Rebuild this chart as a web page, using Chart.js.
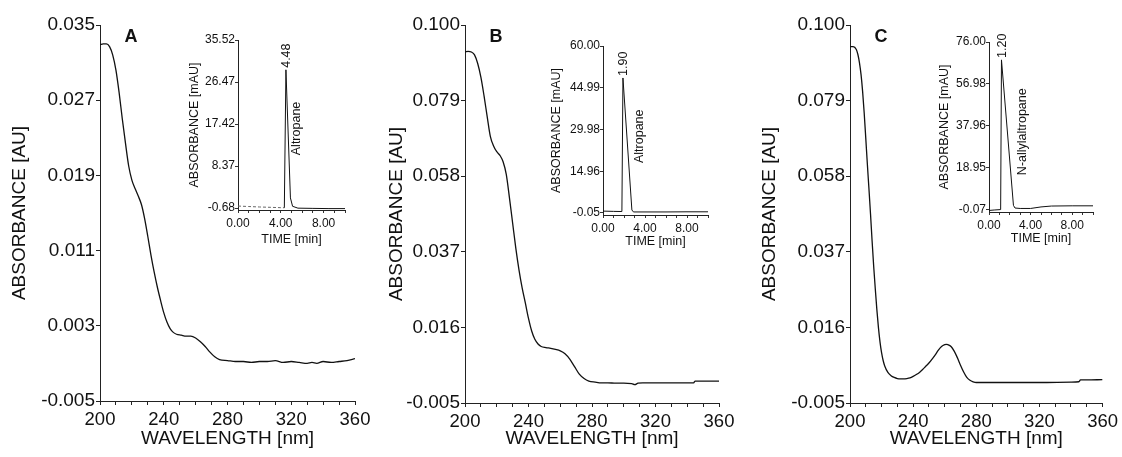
<!DOCTYPE html>
<html>
<head>
<meta charset="utf-8">
<script src="https://cdn.jsdelivr.net/npm/chart.js@4.4.1/dist/chart.umd.min.js"></script>
<style>
  html, body { margin: 0; padding: 0; background: #fff; }
  #wrap { position: relative; width: 1122px; height: 457px; overflow: hidden; background: #fff; }
  #wrap canvas { position: absolute; left: 0; top: 0; width: 1122px; height: 457px; }
</style>
</head>
<body>
<div id="wrap">
  <canvas id="mainA" width="1122" height="457"></canvas>
  <canvas id="mainB" width="1122" height="457"></canvas>
  <canvas id="mainC" width="1122" height="457"></canvas>
  <canvas id="insetA" width="1122" height="457"></canvas>
  <canvas id="insetB" width="1122" height="457"></canvas>
  <canvas id="insetC" width="1122" height="457"></canvas>
</div>
<script>
// UV spectra (wavelength in nm, absorbance in AU)
const wavelengthA = [200,202,204,206,208,210,212,214,216,218,220,222,224,226,228,230,232,234,236,238,240,242,244,246,248,
  251,254,257,260,263,266,269,272,275,280,285,290,295,300,305,310,315,320,325,330,333,336,340,345,350,355,360];
const absorbanceA = [0.0329,0.0330,0.0330,0.0327,0.0318,0.0302,0.0278,0.0250,0.0224,0.0200,0.0185,0.0176,0.0168,0.0159,0.0144,
  0.0125,0.0105,0.0087,0.0071,0.0057,0.0044,0.0034,0.0027,0.0023,0.0021,
  0.0020,0.0019,0.0019,0.0017,0.0013,0.0008,0.0002,-0.0003,-0.0006,
  -0.0007,-0.0008,-0.0008,-0.0009,-0.0008,-0.0008,-0.0007,-0.0009,-0.0008,-0.0009,-0.0010,
  -0.0009,-0.0010,-0.0008,-0.0009,-0.0008,-0.0007,-0.0005];

const wavelengthB = [200,202,204,206,208,210,212,214,216,218,220,222,224,226,228,230,232,234,236,238,240,242,244,246,248,
  251,254,257,260,263,266,269,272,275,278,282,286,290,295,300,305,307,309,312,320,330,340,344,345,350,360];
const absorbanceB = [0.0925,0.0927,0.0925,0.0917,0.0893,0.0855,0.0803,0.0745,0.0690,0.0664,0.0648,0.0638,0.0620,0.0585,0.0520,
  0.0450,0.0380,0.0320,0.0270,0.0228,0.0185,0.0150,0.0127,0.0114,0.0107,
  0.0104,0.0102,0.0099,0.0095,0.0087,0.0072,0.0051,0.0030,0.0018,0.0011,
  0.0008,0.0006,0.0006,0.0005,0.0005,0.0004,0.0001,0.0005,0.0006,0.0006,0.0006,0.0006,0.0006,0.0011,0.0011,0.0011];

const wavelengthC = [200,202,204,205,206,207,208,209,210,211,212,213,214,215,216,217,218,219,220,221,222,224,226,228,230,
  232,234,236,238,240,242,244,246,248,250,252,254,256,258,260,261,262,264,266,268,270,272,274,276,278,280,
  285,300,320,340,345,346,350,360];
const absorbanceC = [0.0940,0.0940,0.0932,0.0918,0.0895,0.0862,0.0815,0.0755,0.0685,0.0613,0.0545,0.0475,0.0400,0.0330,0.0268,
  0.0210,0.0160,0.0120,0.0090,0.0068,0.0053,0.0035,0.0026,0.0021,0.0018,
  0.0017,0.0017,0.0018,0.0020,0.0024,0.0029,0.0035,0.0043,0.0052,0.0061,0.0072,0.0084,0.0097,0.0107,0.0112,0.0113,0.0112,
  0.0107,0.0094,0.0076,0.0055,0.0036,0.0021,0.0013,0.0009,0.0007,
  0.0007,0.0007,0.0007,0.0008,0.0009,0.0014,0.0014,0.0015];

const absTicksA = [-0.005, 0.003, 0.011, 0.019, 0.027, 0.035];
const absTicksBC = [-0.005, 0.016, 0.037, 0.058, 0.079, 0.100];

// chromatograms (time in min, absorbance in mAU)
const timeA = [0, 1, 2, 3, 4, 4.33, 4.48, 4.9, 5.1, 5.6, 7, 8.5, 10];
const signalA = [-0.25, -0.35, -0.45, -0.52, -0.6, -0.62, 29.1, 1.5, -0.3, -0.7, -0.75, -0.8, -0.8];
const timeB = [0, 1, 1.8, 1.9, 2.75, 2.9, 4, 6, 8, 10];
const signalB = [0.6, 0.5, 0.45, 48.5, 1.0, 0.3, 0.3, 0.3, 0.35, 0.35];
const timeC = [0, 0.5, 1.12, 1.2, 2.35, 2.5, 3, 4, 5, 6, 8, 10];
const signalC = [-0.3, -0.1, 0.1, 67.9, 2.0, 0.8, 0.6, 0.6, 1.3, 1.7, 1.8, 1.8];

const mauTicksA = [-0.68, 8.37, 17.42, 26.47, 35.52];
const mauTicksB = [-0.05, 14.96, 29.98, 44.99, 60.00];
const mauTicksC = [-0.07, 18.95, 37.96, 56.98, 76.00];

const panelLetters = ['A', 'B', 'C'];
const peakTimes = [4.48, 1.90, 1.20];
const compoundNames = ['Altropane', 'Altropane', 'N-allylaltropane'];

const FONT = "'Liberation Sans', Arial, Helvetica, sans-serif";
const INK = '#111';
const W = 1122, H = 457;

// every canvas covers the page; padding + fixed scale sizes place the plot area
function fixedLayout(box, yTitleX, xTitleY, titleLH) {
  const padLeft = yTitleX - titleLH / 2;
  const padBottom = H - xTitleY - titleLH / 2;
  return {
    padding: { left: padLeft, top: box.t, right: W - box.r, bottom: padBottom },
    yWidth: box.l - padLeft,
    xHeight: H - padBottom - box.b
  };
}

const letterPlugin = {
  id: 'panelLetter',
  afterDraw(chart, args, opts) {
    const { ctx, chartArea } = chart;
    ctx.save();
    ctx.font = 'bold 18px ' + FONT;
    ctx.fillStyle = INK;
    ctx.textAlign = 'center';
    ctx.textBaseline = 'middle';
    ctx.fillText(opts.text, chartArea.left + 31, chartArea.top + 12);
    ctx.restore();
  }
};

const peakLabelPlugin = {
  id: 'peakLabels',
  afterDatasetsDraw(chart, args, opts) {
    const { ctx, scales: { x, y } } = chart;
    const vertical = (text, px, py) => {
      ctx.save();
      ctx.translate(px, py);
      ctx.rotate(-Math.PI / 2);
      ctx.fillText(text, 0, 0);
      ctx.restore();
    };
    ctx.save();
    ctx.font = '12.5px ' + FONT;
    ctx.fillStyle = INK;
    ctx.textAlign = 'left';
    ctx.textBaseline = 'middle';
    vertical(opts.peakTime.toFixed(2), x.getPixelForValue(opts.peakTime) + 1, y.getPixelForValue(opts.peakValue) - 2);
    vertical(opts.name, x.getPixelForValue(opts.nameAt[0]), y.getPixelForValue(opts.nameAt[1]));
    ctx.restore();
  }
};

function makeMain(id, wl, abs, yTicks, box, letter) {
  const L = fixedLayout(box, box.yTitleX, 439, 22.8);
  new Chart(document.getElementById(id), {
    type: 'line',
    data: {
      datasets: [{
        data: wl.map((w, i) => ({ x: w, y: abs[i] })),
        borderColor: INK,
        borderWidth: 1.3,
        pointRadius: 0,
        fill: false,
        cubicInterpolationMode: 'monotone'
      }]
    },
    options: {
      responsive: false,
      animation: false,
      events: [],
      layout: { padding: L.padding },
      plugins: { legend: { display: false }, tooltip: { enabled: false }, panelLetter: { text: letter } },
      scales: {
        x: {
          type: 'linear', min: 200, max: 360,
          ticks: {
            stepSize: 10, autoSkip: false, maxRotation: 0, padding: 4, color: INK,
            font: { family: FONT, size: 18.5 },
            callback: v => (v % 40 === 0 ? String(v) : '')
          },
          grid: { display: true, drawOnChartArea: false, tickLength: 4, color: '#222' },
          border: { display: true, color: '#222', width: 1 },
          title: { display: true, text: 'WAVELENGTH [nm]', color: INK, padding: 0, font: { family: FONT, size: 19 } },
          afterFit: s => { s.height = L.xHeight; }
        },
        y: {
          type: 'linear', min: yTicks[0], max: yTicks[yTicks.length - 1],
          afterBuildTicks: s => { s.ticks = yTicks.map(v => ({ value: v })); },
          ticks: { padding: 1, color: INK, font: { family: FONT, size: 19 }, callback: v => v.toFixed(3) },
          grid: { display: true, drawOnChartArea: false, tickLength: 4, color: '#222' },
          border: { display: true, color: '#222', width: 1 },
          title: { display: true, text: 'ABSORBANCE [AU]', color: INK, padding: 0, font: { family: FONT, size: 19 } },
          afterFit: s => { s.width = L.yWidth; }
        }
      }
    },
    plugins: [letterPlugin]
  });
}

function makeInset(id, t, s, yTicks, yMin, box, peakTime, name, nameAt, dashBefore) {
  const L = fixedLayout(box, box.yTitleX, box.xTitleY, 15);
  const peakValue = s[t.indexOf(peakTime)];
  new Chart(document.getElementById(id), {
    type: 'line',
    data: {
      datasets: [{
        data: t.map((v, i) => ({ x: v, y: s[i] })),
        borderColor: INK,
        borderWidth: 1,
        pointRadius: 0,
        fill: false,
        tension: 0,
        segment: {
          borderDash: c => (dashBefore !== null && c.p1.parsed.x <= dashBefore ? [3, 2] : undefined),
          borderColor: c => (dashBefore !== null && c.p1.parsed.x <= dashBefore ? '#666' : undefined)
        }
      }]
    },
    options: {
      responsive: false,
      animation: false,
      events: [],
      layout: { padding: L.padding },
      plugins: {
        legend: { display: false }, tooltip: { enabled: false },
        peakLabels: { peakTime: peakTime, peakValue: peakValue, name: name, nameAt: nameAt }
      },
      scales: {
        x: {
          type: 'linear', min: 0, max: 10,
          ticks: {
            stepSize: 1, autoSkip: false, maxRotation: 0, padding: 3, color: INK,
            font: { family: FONT, size: 12 },
            callback: v => (v % 4 === 0 ? v.toFixed(2) : '')
          },
          grid: { display: true, drawOnChartArea: false, tickLength: 3, color: '#333' },
          border: { display: true, color: '#222', width: 1 },
          title: { display: true, text: 'TIME [min]', color: INK, padding: 0, font: { family: FONT, size: 12.5 } },
          afterFit: sc => { sc.height = L.xHeight; }
        },
        y: {
          type: 'linear', min: yMin, max: yTicks[yTicks.length - 1],
          afterBuildTicks: sc => { sc.ticks = yTicks.map(v => ({ value: v })); },
          ticks: { padding: 0, color: INK, font: { family: FONT, size: 12 }, callback: v => v.toFixed(2) },
          grid: { display: true, drawOnChartArea: false, tickLength: 3, color: '#333' },
          border: { display: true, color: '#222', width: 1 },
          title: { display: true, text: 'ABSORBANCE [mAU]', color: INK, padding: 0, font: { family: FONT, size: 12.5 } },
          afterFit: sc => { sc.width = L.yWidth; }
        }
      }
    },
    plugins: [peakLabelPlugin]
  });
}

makeMain('mainA', wavelengthA, absorbanceA, absTicksA, { l: 100, t: 25, r: 355, b: 401, yTitleX: 20 }, panelLetters[0]);
makeMain('mainB', wavelengthB, absorbanceB, absTicksBC, { l: 465, t: 25, r: 719, b: 403, yTitleX: 397 }, panelLetters[1]);
makeMain('mainC', wavelengthC, absorbanceC, absTicksBC, { l: 850, t: 25, r: 1107, b: 403, yTitleX: 770 }, panelLetters[2]);

makeInset('insetA', timeA, signalA, mauTicksA, -1.1, { l: 238, t: 40, r: 345, b: 210, yTitleX: 195, xTitleY: 240 },
  peakTimes[0], compoundNames[0], [5.5, 10.7], 4.33);
makeInset('insetB', timeB, signalB, mauTicksB, -0.8, { l: 603, t: 46, r: 708, b: 215, yTitleX: 557, xTitleY: 242 },
  peakTimes[1], compoundNames[1], [3.5, 17.9], null);
makeInset('insetC', timeC, signalC, mauTicksC, -1.0, { l: 989, t: 42, r: 1093, b: 212, yTitleX: 945, xTitleY: 239 },
  peakTimes[2], compoundNames[2], [3.27, 15.7], null);
</script>
</body>
</html>
